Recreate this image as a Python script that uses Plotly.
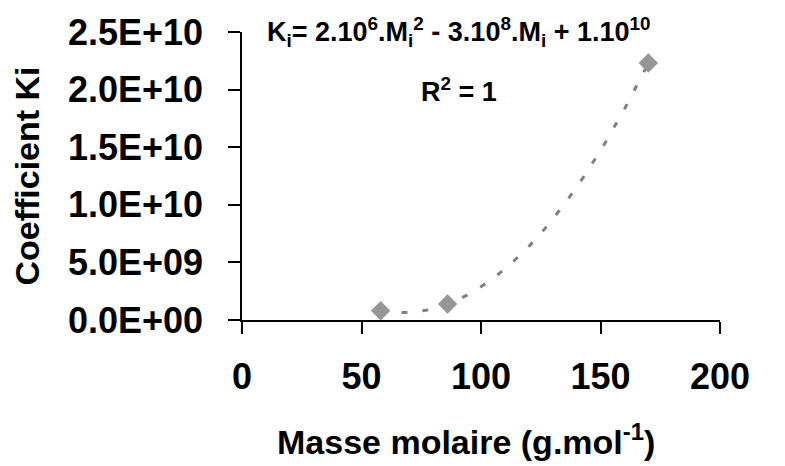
import numpy as np
import plotly.graph_objects as go

# Data
masse_molaire = [58, 86, 170]
coefficient_ki = [8.0e8, 1.38e9, 2.23e10]
x_ticks = [0, 50, 100, 150, 200]
y_ticks = [0, 5e9, 1e10, 1.5e10, 2e10, 2.5e10]
y_tick_labels = ["0.0E+00", "5.0E+09", "1.0E+10", "1.5E+10", "2.0E+10", "2.5E+10"]

# Polynomial (order 2) trendline fitted on the data
coefs = np.polyfit(masse_molaire, coefficient_ki, 2)
xs = np.linspace(min(masse_molaire), max(masse_molaire), 120)
ys = np.polyval(coefs, xs)

FONT = "Liberation Sans, Arial, sans-serif"

fig = go.Figure()
fig.add_trace(go.Scatter(
    x=xs, y=ys, mode="lines",
    line=dict(color="#808080", width=3, dash="6px,15px"),
    hoverinfo="skip", showlegend=False,
))
fig.add_trace(go.Scatter(
    x=masse_molaire, y=coefficient_ki, mode="markers",
    marker=dict(symbol="diamond", size=15, color="#969696", line=dict(width=0)),
    showlegend=False,
))

fig.add_annotation(
    x=0.454, y=1.0, xref="paper", yref="paper", showarrow=False,
    text="K<sub>i</sub>= 2.10<sup>6</sup>.M<sub>i</sub><sup>2</sup> - 3.10<sup>8</sup>.M<sub>i</sub> + 1.10<sup>10</sup>",
    font=dict(family=FONT, size=27, color="black", weight="bold"),
    xanchor="center", yanchor="middle",
)
fig.add_annotation(
    x=0.453, y=0.80, xref="paper", yref="paper", showarrow=False,
    text="R<sup>2</sup> = 1",
    font=dict(family=FONT, size=27, color="black", weight="bold"),
    xanchor="center", yanchor="middle",
)
# x-axis title (placed as annotation to match its horizontal offset)
fig.add_annotation(
    x=0.469, y=-0.415, xref="paper", yref="paper", showarrow=False,
    text="Masse molaire (g.mol<sup>-1</sup>)",
    font=dict(family=FONT, size=34, color="black", weight="bold"),
    xanchor="center", yanchor="middle",
)

# note: page body has an 8px default margin, so the figure is sized to fit the window
fig.update_layout(
    width=777, height=458,
    margin=dict(l=234, r=65, t=24, b=146),
    paper_bgcolor="white", plot_bgcolor="white",
    font=dict(family=FONT, color="black"),
    xaxis=dict(
        range=[0, 200], tickvals=x_ticks, ticktext=[str(v) for v in x_ticks],
        showgrid=False, zeroline=False, showline=True, linecolor="black", linewidth=1.5,
        ticks="outside", ticklen=12, tickwidth=1.5, tickcolor="black",
        tickfont=dict(family=FONT, size=36, weight="bold"),
        ticklabelstandoff=12, automargin=False,
    ),
    yaxis=dict(
        range=[0, 2.5e10], tickvals=y_ticks, ticktext=y_tick_labels,
        showgrid=False, zeroline=False, showline=True, linecolor="black", linewidth=1.5,
        ticks="outside", ticklen=12, tickwidth=1.5, tickcolor="black",
        tickfont=dict(family=FONT, size=36, weight="bold"),
        ticklabelstandoff=18, automargin=False,
        title=dict(text="Coefficient Ki",
                   font=dict(family=FONT, size=34, weight="bold"), standoff=31),
    ),
)

fig.write_html("out.html")
